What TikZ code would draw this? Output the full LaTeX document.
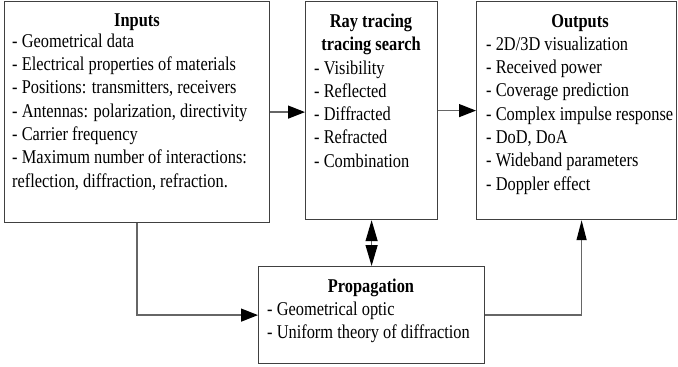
\documentclass[tikz,border=0pt]{standalone}
\usepackage{fontspec}
\setmainfont{Liberation Serif}[FakeStretch=0.84]
\usetikzlibrary{arrows.meta}
\begin{document}
\begin{tikzpicture}[x=1pt,y=-1pt,
  box/.style={draw=black!75, line width=1.2pt, rectangle, inner sep=0pt, anchor=north west},
  ttl/.style={font=\fontsize{19.5}{23.3}\selectfont\bfseries, anchor=base, inner sep=0pt},
  lst/.style={font=\fontsize{19.5}{23.3}\selectfont, align=left, anchor=north west, inner sep=0pt},
  conn/.style={draw=black!60, line width=1.3pt},
  tipA/.style={-{Triangle[length=17pt,width=13pt,color=black]}},
  tipB/.style={{Triangle[length=21pt,width=12pt,color=black]}-{Triangle[length=21pt,width=12pt,color=black]}},
  tipC/.style={-{Triangle[length=20pt,width=10pt,color=black]}}]
\useasboundingbox (0,0) rectangle (678,367);
% boxes
\node[box, minimum width=265pt, minimum height=221pt] (inbox) at (4,1) {};
\node[box, minimum width=132pt, minimum height=218pt] (ray) at (305,1) {};
\node[box, minimum width=200pt, minimum height=218pt] (out) at (476,1) {};
\node[box, minimum width=226pt, minimum height=97pt] (prop) at (258,266) {};
% texts
\node[ttl] (inttl) at (137,26) {Inputs};
\node[lst] (inlst) at (12,30.7) {\strut- Geometrical data\\
- Electrical properties of materials\\
- Positions: transmitters, receivers\\
- Antennas: polarization, directivity\\
- Carrier frequency\\
- Maximum number of interactions:\\
reflection, diffraction, refraction.};
\node[ttl, align=center] (rayttl) at (371,50.5) {Ray tracing\\tracing search};
\node[lst] (raylst) at (314,57.5) {\strut- Visibility\\
- Reflected\\
- Diffracted\\
- Refracted\\
- Combination};
\node[ttl] (outttl) at (580,27) {Outputs};
\node[lst] (outlst) at (486,33.7) {\strut- 2D/3D visualization\\
- Received power\\
- Coverage prediction\\
- Complex impulse response\\
- DoD, DoA\\
- Wideband parameters\\
- Doppler effect};
\node[ttl] (propttl) at (371,292) {Propagation};
\node[lst] (proplst) at (267,298.7) {\strut- Geometrical optic\\
- Uniform theory of diffraction};
% connectors
\draw[conn, tipA] (inbox.east) -- (inbox.east -| ray.west);
\draw[conn, tipA] (ray.east) -- (out.west);
\draw[conn, tipB] (ray.south) -- (prop.north);
\draw[conn, tipA] (inbox.south) |- (prop.west);
\coordinate (outin) at ([xshift=5pt]out.south);
\draw[conn, tipC] (prop.east) -| (outin);
\end{tikzpicture}
\end{document}
